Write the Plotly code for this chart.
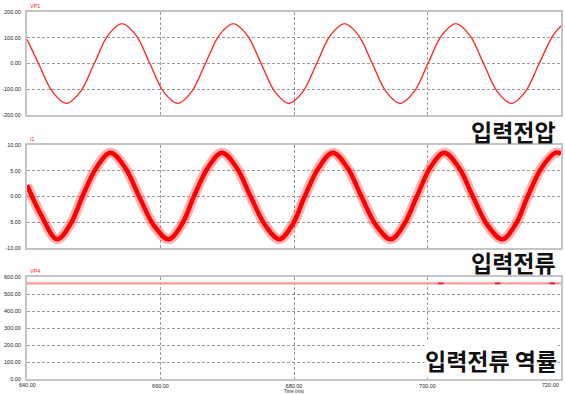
import plotly.graph_objects as go

# Time axis (ms)
x_ticks = [640, 660, 680, 700, 720]
x_tick_text = ["640.00", "660.00", "680.00", "700.00", "720.00"]

# VP1: input voltage samples (time ms, volts)
vp1_t = [640, 641.73, 643.82, 645.90, 647.98, 650.07, 652.15, 654.23, 656.32, 658.40,
         660.48, 662.57, 664.65, 666.73, 668.82, 670.90, 672.98, 675.07, 677.15, 679.23,
         681.32, 683.40, 685.48, 687.57, 689.65, 691.73, 693.82, 695.90, 697.98, 700.07,
         702.15, 704.23, 706.32, 708.40, 710.48, 712.57, 714.65, 716.73, 718.82, 720]
vp1_v = [94, 0, -110, -155, -110, 0, 110, 155, 110, 0,
         -110, -155, -110, 0, 110, 155, 110, 0, -110, -155,
         -110, 0, 110, 155, 110, 0, -110, -155, -110, 0,
         110, 155, 110, 0, -110, -155, -110, 0, 110, 146]

# I1: input current samples (time ms, amps)
i1_t = [640, 642.2, 644.5, 646.5, 648.3, 650.4, 652.5, 654.7, 656.8, 659.0,
        661.2, 663.2, 665.0, 667.1, 669.2, 671.4, 673.5, 675.7, 677.8, 679.8,
        681.6, 683.7, 685.8, 688.0, 690.1, 692.3, 694.5, 696.5, 698.4, 700.4,
        702.5, 704.7, 706.8, 709.0, 711.2, 713.2, 715.0, 717.1, 719.2, 720]
i1_a = [2.2, -3.8, -8.3, -5.4, 0, 5.6, 8.5, 5.6, 0, -5.6,
        -8.3, -5.4, 0, 5.6, 8.5, 5.6, 0, -5.6, -8.3, -5.4,
        0, 5.6, 8.5, 5.6, 0, -5.6, -8.3, -5.4, 0, 5.6,
        8.5, 5.6, 0, -5.6, -8.3, -5.4, 0, 5.6, 8.5, 8.3]

# VP4: DC level and its small ripple spots
vp4_t = [640, 720]
vp4_v = [562, 562]
vp4_ripple_t = [701.6, 702.4, None, 710.1, 710.9, None, 718.3, 719.1]
vp4_ripple_v = [562.5, 562.5, None, 562.5, 562.5, None, 562.5, 562.5]

y1_ticks = [-200, -100, 0, 100, 200]
y1_text = ["-200.00", "-100.00", "0.00", "100.00", "200.00"]
y2_ticks = [-10, -5, 0, 5, 10]
y2_text = ["-10.00", "-5.00", "0.00", "5.00", "10.00"]
y3_ticks = [0, 100, 200, 300, 400, 500, 600]
y3_text = ["0.00", "100.00", "200.00", "300.00", "400.00", "500.00", "600.00"]

TICK_FONT = dict(family="Liberation Sans, Arial", size=5.5, color="#222222")
GRID = dict(showgrid=True, gridcolor="#9a9a9a", gridwidth=1, griddash="3px,2px",
            showline=True, mirror=True, linecolor="#c4c4c4", linewidth=2,
            zeroline=False, ticks="", tickfont=TICK_FONT)

fig = go.Figure()

fig.add_trace(go.Scatter(x=vp1_t, y=vp1_v, mode="lines", xaxis="x", yaxis="y",
                         line=dict(color="#ff2a2a", width=1.4, shape="spline"),
                         showlegend=False))

# current trace drawn as a soft band with a solid core
fig.add_trace(go.Scatter(x=i1_t, y=i1_a, mode="lines", xaxis="x2", yaxis="y2",
                         line=dict(color="rgba(255,40,40,0.35)", width=10, shape="spline"),
                         showlegend=False))
fig.add_trace(go.Scatter(x=i1_t, y=i1_a, mode="lines", xaxis="x2", yaxis="y2",
                         line=dict(color="#ff0000", width=4.5, shape="spline"),
                         showlegend=False))

fig.add_trace(go.Scatter(x=vp4_t, y=vp4_v, mode="lines", xaxis="x3", yaxis="y3",
                         line=dict(color="#ff9a9a", width=2.2), showlegend=False))
fig.add_trace(go.Scatter(x=vp4_ripple_t, y=vp4_ripple_v, mode="lines", xaxis="x3", yaxis="y3",
                         line=dict(color="#ff0000", width=1.5), showlegend=False,
                         connectgaps=False))

xcommon = dict(range=[640, 720], tickvals=x_ticks[1:-1], **GRID)

fig.update_layout(
    width=565, height=394, autosize=False,
    margin=dict(l=25, r=2, t=12, b=15),
    paper_bgcolor="white", plot_bgcolor="white",
    xaxis=dict(domain=[0, 1], anchor="y", showticklabels=False, **xcommon),
    xaxis2=dict(domain=[0, 1], anchor="y2", showticklabels=False, **xcommon),
    xaxis3=dict(domain=[0, 1], anchor="y3", showticklabels=True,
                ticktext=x_tick_text[1:-1], ticklabelstandoff=0, **xcommon),
    yaxis=dict(domain=[0.7193, 1.0], anchor="x", range=[-200, 200],
               tickvals=y1_ticks, ticktext=y1_text, ticklabelstandoff=3, **GRID),
    yaxis2=dict(domain=[0.3569, 0.6376], anchor="x2", range=[-10, 10],
                tickvals=y2_ticks, ticktext=y2_text, ticklabelstandoff=3, **GRID),
    yaxis3=dict(domain=[0, 0.2779], anchor="x3", range=[0, 600],
                tickvals=y3_ticks, ticktext=y3_text, ticklabelstandoff=3, **GRID),
)

# end-of-axis tick labels, kept inside the page
fig.add_annotation(text=x_tick_text[0], x=0, y=0, xref="paper", yref="paper",
                   xanchor="center", yanchor="top", yshift=-1, showarrow=False,
                   font=TICK_FONT)
fig.add_annotation(text=x_tick_text[-1], x=1, y=0, xref="paper", yref="paper",
                   xanchor="right", yanchor="top", yshift=-1, showarrow=False,
                   font=TICK_FONT)
fig.add_annotation(text="Time (ms)", x=0.5, y=0, xref="paper", yref="paper",
                   xanchor="center", yanchor="top", yshift=-9, showarrow=False,
                   borderpad=0,
                   font=dict(family="Liberation Sans, Arial", size=4.5, color="#222222"))

# trace names above each panel
for name, xref, yref in [("VP1", "x domain", "y domain"),
                         ("I1", "x2 domain", "y2 domain"),
                         ("VP4", "x3 domain", "y3 domain")]:
    fig.add_annotation(text=name, x=0, y=1, xref=xref, yref=yref, xanchor="left",
                       yanchor="bottom", xshift=1, yshift=1, showarrow=False,
                       font=dict(family="Liberation Sans, Arial", size=5.5, color="#ff2020"))

KFONT = dict(family="Noto Sans CJK KR", size=23, color="#111111", weight="bold")
fig.add_annotation(text="입력전압", x=0.9944, y=0.6744, xref="paper", yref="paper",
                   xanchor="right", yanchor="middle", showarrow=False, font=KFONT)
fig.add_annotation(text="입력전류", x=0.9944, y=0.3188, xref="paper", yref="paper",
                   xanchor="right", yanchor="middle", showarrow=False, font=KFONT)
fig.add_annotation(text="입력전류 역률", x=0.9944, y=0.0518, xref="paper", yref="paper",
                   xanchor="right", yanchor="middle", showarrow=False, font=KFONT,
                   bgcolor="white", borderpad=0)

fig.write_html("out.html")
